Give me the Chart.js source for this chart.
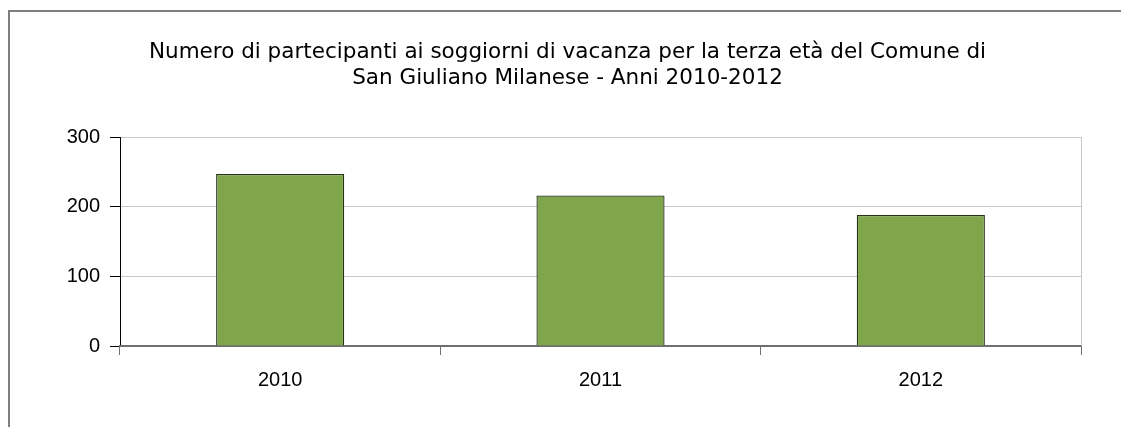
<!DOCTYPE html>
<html>
<head>
<meta charset="utf-8">
<script src="https://cdn.jsdelivr.net/npm/chart.js@4"></script>
<style>
    html, body { margin: 0; padding: 0; background: #fff; overflow: hidden; }
    #wrap { position: relative; width: 1121px; height: 427px; }
    #frame {
        position: absolute; left: 8px; top: 10px; width: 1200px; height: 500px;
        border: 2px solid #7f7f7f; pointer-events: none;
    }
</style>
</head>
<body>
<div id="wrap">
    <canvas id="chart" width="1121" height="427"></canvas>
    <div id="frame"></div>
</div>
<script>
// Data
const anni = ['2010', '2011', '2012'];
const partecipanti = [247, 216, 188];
const titolo = [
    'Numero di partecipanti ai soggiorni di vacanza per la terza età del Comune di',
    'San Giuliano Milanese - Anni 2010-2012'
];

// light grey border on the right side of the plot area
const plotBorder = {
    id: 'plotBorder',
    beforeDatasetsDraw(chart) {
        const { ctx, chartArea: a } = chart;
        ctx.save();
        ctx.strokeStyle = '#c8c8c8';
        ctx.lineWidth = 1;
        ctx.beginPath();
        ctx.moveTo(Math.round(a.right) + 0.5, a.top);
        ctx.lineTo(Math.round(a.right) + 0.5, a.bottom);
        ctx.stroke();
        ctx.restore();
    }
};

new Chart(document.getElementById('chart'), {
    type: 'bar',
    data: {
        labels: anni,
        datasets: [{
            data: partecipanti,
            backgroundColor: '#7fa64b',
            borderColor: '#25321a',
            borderWidth: 1.3,
            categoryPercentage: 1,
            barPercentage: 0.4
        }]
    },
    options: {
        responsive: false,
        animation: false,
        layout: { padding: { left: 14, right: 0, top: 0, bottom: 0 } },
        plugins: {
            legend: { display: false },
            tooltip: { enabled: false },
            title: {
                display: true,
                text: titolo,
                color: '#000',
                font: { family: 'DejaVu Sans', size: 21.5, weight: 'normal', lineHeight: 1.21 },
                padding: { top: 39, bottom: 46 }
            }
        },
        scales: {
            y: {
                min: 0,
                max: 300,
                afterFit(scale) { scale.width = 106; },
                ticks: {
                    stepSize: 100,
                    color: '#000',
                    padding: 10,
                    font: { family: 'Liberation Sans', size: 20 }
                },
                border: { color: '#000', width: 1 },
                grid: {
                    color: ctx => ctx.tick && ctx.tick.value === 0 ? '#808080' : '#c8c8c8',
                    tickColor: '#000',
                    tickLength: 10
                }
            },
            // empty spacer on the right so the title stays centred on the page
            spacer: {
                type: 'linear',
                position: 'right',
                afterFit(scale) { scale.width = 40; },
                ticks: { display: false },
                grid: { display: false },
                border: { display: false }
            },
            x: {
                afterFit(scale) { scale.height = 81; },
                ticks: {
                    color: '#000',
                    padding: 13,
                    font: { family: 'Liberation Sans', size: 20 }
                },
                border: { color: '#707070', width: 2 },
                grid: {
                    offset: true,
                    drawOnChartArea: false,
                    color: '#707070',
                    tickLength: 9
                }
            }
        }
    },
    plugins: [plotBorder]
});
</script>
</body>
</html>
